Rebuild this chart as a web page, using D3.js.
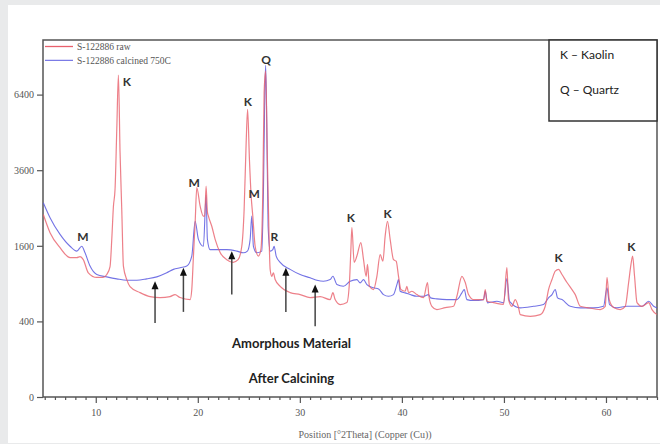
<!DOCTYPE html>
<html lang="en">
  <head>
    <meta charset="UTF-8" />
    <title>XRD pattern: S-122886 raw vs calcined 750C</title>
    <script src="https://d3js.org/d3.v7.min.js"></script>
    <style>
      body {
        margin: 0;
        background: #e9eaeb;
      }
      .tick text {
        font-family: 'Liberation Serif', serif;
        font-size: 10px;
        fill: #555;
      }
      .tick line {
        stroke: #555;
      }
      .legend-text {
        font-family: 'Liberation Serif', serif;
        font-size: 9.5px;
        fill: #555;
      }
      .peak {
        font-family: Lato, sans-serif;
        font-weight: bold;
        font-size: 12px;
        fill: #333;
      }
      .note {
        font-family: Lato, sans-serif;
        font-weight: bold;
        font-size: 13px;
        fill: #222;
      }
    </style>
  </head>
  <body>
    <svg width="660" height="444"></svg>

    <script>
      // [2theta, counts]
      const rawPattern = [
        [4.86, 2330], [5.52, 1890], [6.5, 1560], [7.48, 1360], [8.14, 1360],
        [8.46, 1380], [8.78, 1320], [9.27, 1080], [10.1, 1000], [10.72, 1000],
        [11.08, 1050], [11.4, 1190], [11.57, 1740], [11.73, 2540], [11.89, 3020],
        [12.06, 5010], [12.22, 7250], [12.38, 4200], [12.55, 2450], [12.71, 1200],
        [13.04, 965], [13.36, 854], [14.34, 763], [15.32, 706], [16.3, 692],
        [17.28, 706], [17.77, 734], [18.26, 692], [19.25, 664], [19.41, 808],
        [19.57, 1380], [19.74, 2130], [19.9, 3070], [20.23, 2550], [20.55, 2290],
        [20.68, 2290], [20.81, 3110], [20.94, 2400], [21.04, 2290], [21.37, 2040],
        [21.7, 1740], [22.19, 1460], [22.84, 1320], [23.46, 1270], [23.95, 1320],
        [24.31, 1590], [24.54, 2460], [24.74, 4540], [24.88, 5790], [25.06, 3950],
        [25.23, 2820], [25.39, 2290], [25.62, 1590], [25.94, 1390], [26.18, 1520],
        [26.37, 2930], [26.5, 6500], [26.65, 7430], [26.82, 3950], [26.96, 2040],
        [27.09, 1140], [27.25, 1020], [27.41, 1080], [27.58, 965], [28.07, 858],
        [29.05, 763], [30.03, 734], [31.01, 692], [31.99, 706], [32.97, 664],
        [33.24, 763], [33.46, 664], [33.95, 598], [34.61, 624], [34.86, 917],
        [35.0, 1520], [35.1, 2010], [35.32, 1270], [35.59, 1390], [35.98, 1670],
        [36.24, 1320], [36.5, 1020], [36.63, 1230], [36.82, 858], [37.22, 808],
        [37.55, 1020], [37.87, 1420], [38.14, 1290], [38.36, 1810], [38.59, 2160],
        [38.85, 1740], [39.18, 1320], [39.44, 1290], [39.67, 1020], [39.9, 808],
        [40.32, 783], [40.49, 858], [40.65, 763], [40.98, 783], [41.47, 734],
        [42.12, 692], [42.51, 917], [42.65, 710], [42.94, 576], [43.43, 535],
        [44.25, 560], [45.06, 576], [45.39, 710], [45.88, 1020], [46.21, 917],
        [46.53, 734], [47.02, 664], [48.0, 664], [48.17, 808], [48.33, 641],
        [48.98, 624], [49.96, 600], [50.29, 1170], [50.45, 664], [50.78, 576],
        [51.11, 664], [51.43, 560], [51.6, 475], [52.58, 456], [53.56, 475],
        [54.05, 576], [54.37, 808], [54.71, 965], [55.03, 1110], [55.35, 1140],
        [55.69, 1050], [56.18, 917], [56.67, 808], [56.99, 734], [57.48, 576],
        [58.14, 560], [59.44, 535], [59.93, 576], [60.1, 1000], [60.32, 664],
        [60.75, 560], [61.4, 535], [61.89, 576], [62.22, 917], [62.45, 1230],
        [62.61, 1390], [62.8, 1020], [63.04, 624], [63.53, 576], [64.18, 624],
        [64.51, 535], [65.0, 475],
      ];

      const calcinedPattern = [
        [4.86, 2640], [5.52, 2250], [6.5, 1850], [7.48, 1590], [8.14, 1490],
        [8.63, 1590], [8.95, 1455], [9.44, 1200], [10.1, 1050], [11.08, 1010],
        [12.06, 977], [13.04, 954], [14.02, 954], [15.0, 977], [15.98, 1010],
        [16.96, 1080], [17.61, 1140], [18.26, 1170], [18.92, 1200], [19.41, 1390],
        [19.74, 2160], [20.06, 1740], [20.55, 1590], [20.81, 2850], [20.94, 1740],
        [21.21, 1520], [21.86, 1520], [22.84, 1520], [23.82, 1490], [24.47, 1455],
        [24.86, 1490], [25.13, 1740], [25.29, 2290], [25.45, 1590], [25.78, 1455],
        [26.27, 1490], [26.43, 2930], [26.57, 6500], [26.65, 7700], [26.76, 5140],
        [26.89, 2040], [27.09, 1490], [27.35, 1520], [27.48, 1590], [27.68, 1390],
        [28.07, 1270], [29.05, 1140], [30.03, 1050], [31.01, 994], [31.67, 954],
        [32.31, 938], [32.97, 965], [33.24, 1020], [33.63, 885], [34.27, 858],
        [34.93, 938], [35.59, 965], [35.91, 912], [36.24, 965], [36.57, 885],
        [37.22, 834], [37.71, 818], [38.2, 734], [38.69, 710], [39.18, 734],
        [39.51, 885], [39.67, 965], [39.83, 783], [40.32, 759], [40.81, 734],
        [41.47, 710], [42.12, 710], [42.61, 734], [42.81, 688], [43.43, 674],
        [44.41, 664], [45.39, 664], [45.88, 759], [46.11, 808], [46.37, 664],
        [47.02, 651], [48.0, 664], [48.17, 783], [48.39, 620], [49.31, 641],
        [49.96, 620], [50.29, 980], [50.55, 641], [51.6, 556], [52.9, 576],
        [53.88, 598], [54.37, 688], [54.71, 734], [55.03, 808], [55.25, 688],
        [55.69, 664], [56.5, 576], [57.48, 556], [58.78, 556], [59.76, 576],
        [60.1, 834], [60.35, 598], [61.08, 556], [62.06, 576], [62.71, 576],
        [63.53, 576], [64.18, 641], [64.67, 576], [65.0, 556],
      ];

      const seriesNames = ['S-122886 raw', 'S-122886 calcined 750C'];
      const yTicks = [0, 400, 1600, 3600, 6400];
      const xMajorTicks = [10, 20, 30, 40, 50, 60];

      // phase labels: [letter, 2theta, counts]
      const peakLabels = [
        ['K', 13.04, 6980], ['Q', 26.7, 7980], ['K', 24.9, 6120],
        ['M', 19.64, 3220], ['M', 25.52, 2900], ['R', 27.51, 1800],
        ['M', 8.73, 1800], ['K', 35.0, 2260], ['K', 38.59, 2360],
        ['K', 55.35, 1360], ['K', 62.48, 1585],
      ];

      // arrows: [2theta, tail counts, tip counts]
      const arrows = [
        [15.81, 384, 938], [18.59, 507, 1168], [23.33, 734, 1488],
        [28.63, 507, 1168], [31.5, 350, 885],
      ];

      const legendKey = ['K \u2013 Kaolin', 'Q \u2013 Quartz'];

      const svg = d3.select('svg');
      const margin = { top: 40, right: 3, bottom: 47, left: 43 };
      const width = 660, height = 444;

      svg.append('rect')
        .attr('x', 8).attr('y', 5)
        .attr('width', 652).attr('height', 438)
        .attr('fill', '#fff');

      const x = d3.scaleLinear()
        .domain([4.83, 65])
        .range([margin.left, width - margin.right]);

      const y = d3.scaleSqrt()
        .domain([0, 8920])
        .range([height - margin.bottom, margin.top]);

      svg.append('clipPath').attr('id', 'clip')
        .append('rect')
        .attr('x', margin.left).attr('y', margin.top)
        .attr('width', width - margin.left - margin.right)
        .attr('height', height - margin.top - margin.bottom);

      // axes
      const xMinor = d3.range(5, 66, 1).filter((d) => d % 10 !== 0);
      svg.append('g')
        .attr('transform', `translate(0,${height - margin.bottom})`)
        .call(d3.axisBottom(x).tickValues(xMinor).tickSize(3).tickFormat(''))
        .call((g) => g.select('.domain').remove());

      svg.append('g')
        .attr('transform', `translate(0,${height - margin.bottom})`)
        .call(d3.axisBottom(x).tickValues(xMajorTicks).tickSize(6).tickPadding(6))
        .call((g) => g.select('.domain').remove());

      svg.append('g')
        .attr('transform', `translate(${margin.left},0)`)
        .call(d3.axisLeft(y).tickValues(yTicks).tickSize(6).tickPadding(3).tickFormat(d3.format('d')))
        .call((g) => g.select('.domain').remove());

      svg.selectAll('.tick line').attr('stroke-width', 1.2);

      // frame
      svg.append('rect')
        .attr('x', margin.left).attr('y', margin.top)
        .attr('width', width - margin.left - margin.right)
        .attr('height', height - margin.top - margin.bottom)
        .attr('fill', 'none')
        .attr('stroke', '#555')
        .attr('stroke-width', 1.5);

      svg.append('text')
        .attr('x', 365).attr('y', 438)
        .attr('text-anchor', 'middle')
        .attr('class', 'legend-text')
        .style('font-size', '10px')
        .style('fill', '#666')
        .text('Position [\u00b02Theta] (Copper (Cu))');

      // patterns
      const line = d3.line()
        .x((d) => x(d[0]))
        .y((d) => y(d[1]))
        .curve(d3.curveMonotoneX);

      const colors = ['#e8606c', '#5a5ae0'];

      svg.append('path')
        .datum(calcinedPattern)
        .attr('clip-path', 'url(#clip)')
        .attr('fill', 'none')
        .attr('stroke', colors[1])
        .attr('stroke-opacity', 0.85)
        .attr('stroke-width', 1.1)
        .attr('d', line);

      svg.append('path')
        .datum(rawPattern)
        .attr('clip-path', 'url(#clip)')
        .attr('fill', 'none')
        .attr('stroke', colors[0])
        .attr('stroke-opacity', 0.8)
        .attr('stroke-width', 1.2)
        .attr('d', line);

      // legend
      seriesNames.forEach((name, i) => {
        const ly = 46.5 + i * 13.8;
        svg.append('line')
          .attr('x1', 45).attr('x2', 73)
          .attr('y1', ly).attr('y2', ly)
          .attr('stroke', colors[i])
          .attr('stroke-width', i === 0 ? 1.3 : 1);
        svg.append('text')
          .attr('class', 'legend-text')
          .attr('x', 77).attr('y', ly)
          .attr('dy', '0.35em')
          .text(name);
      });

      // phase letters
      svg.selectAll('.peak')
        .data(peakLabels)
        .enter()
        .append('text')
        .attr('class', 'peak')
        .attr('x', (d) => x(d[1]))
        .attr('y', (d) => y(d[2]))
        .attr('dy', '0.36em')
        .attr('text-anchor', 'middle')
        .text((d) => d[0]);

      // arrows
      const arrowG = svg.selectAll('.arrow')
        .data(arrows)
        .enter()
        .append('g')
        .attr('class', 'arrow');

      arrowG.append('line')
        .attr('x1', (d) => x(d[0]))
        .attr('x2', (d) => x(d[0]))
        .attr('y1', (d) => y(d[1]))
        .attr('y2', (d) => y(d[2]) + 5)
        .attr('stroke', '#444')
        .attr('stroke-width', 1.5);

      arrowG.append('path')
        .attr('d', (d) => {
          const px = x(d[0]), py = y(d[2]);
          return `M${px},${py} L${px - 3.5},${py + 8} L${px + 3.5},${py + 8} Z`;
        })
        .attr('fill', '#111');

      svg.append('text')
        .attr('class', 'note')
        .attr('x', 291.5).attr('y', 343.5)
        .attr('dy', '0.35em')
        .attr('text-anchor', 'middle')
        .text('Amorphous Material');

      svg.append('text')
        .attr('class', 'note')
        .attr('x', 291.5).attr('y', 378)
        .attr('dy', '0.35em')
        .attr('text-anchor', 'middle')
        .text('After Calcining');

      // key box
      svg.append('rect')
        .attr('x', 549).attr('y', 40)
        .attr('width', 108).attr('height', 81)
        .attr('fill', '#fff')
        .attr('stroke', '#333')
        .attr('stroke-width', 1.5);

      legendKey.forEach((t, i) => {
        svg.append('text')
          .attr('x', 560).attr('y', 54.5 + i * 35)
          .attr('dy', '0.35em')
          .style('font-family', 'Lato, sans-serif')
          .style('font-size', '12px')
          .style('fill', '#222')
          .text(t);
      });
    </script>
  </body>
</html>
